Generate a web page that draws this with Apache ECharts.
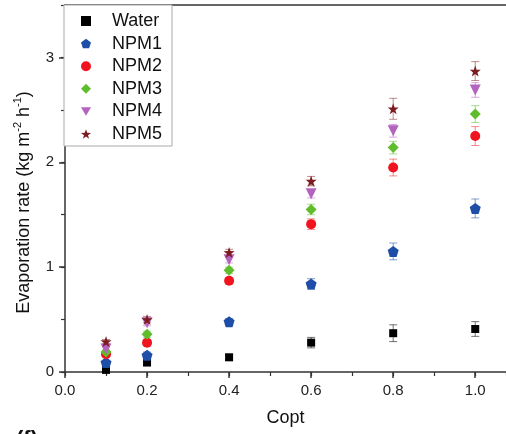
<!DOCTYPE html>
<html>
<head>
<meta charset="utf-8">
<script src="https://cdn.jsdelivr.net/npm/echarts@6/dist/echarts.min.js"></script>
<style>html,body{margin:0;padding:0;background:#fff}#c{width:506px;height:434px}</style>
</head>
<body>
<div id="c"></div>
<script>
const copt = [0.1, 0.2, 0.4, 0.6, 0.8, 1.0];
const water = [0.02, 0.09, 0.14, 0.28, 0.37, 0.41];
const waterErr = [0.01, 0.02, 0.03, 0.05, 0.08, 0.07];
const npm1 = [0.09, 0.16, 0.48, 0.84, 1.15, 1.56];
const npm1Err = [0.02, 0.03, 0.03, 0.05, 0.08, 0.09];
const npm2 = [0.17, 0.28, 0.87, 1.41, 1.95, 2.25];
const npm2Err = [0.02, 0.03, 0.03, 0.05, 0.08, 0.09];
const npm3 = [0.19, 0.36, 0.97, 1.55, 2.14, 2.46];
const npm3Err = [0.02, 0.03, 0.03, 0.05, 0.06, 0.08];
const npm4 = [0.22, 0.47, 1.07, 1.70, 2.30, 2.69];
const npm4Err = [0.02, 0.03, 0.03, 0.04, 0.06, 0.07];
const npm5 = [0.29, 0.50, 1.14, 1.82, 2.51, 2.87];
const npm5Err = [0.02, 0.03, 0.03, 0.045, 0.10, 0.09];
const seriesNames = ['Water', 'NPM1', 'NPM2', 'NPM3', 'NPM4', 'NPM5'];
const xTickLabels = ['0.0', '0.2', '0.4', '0.6', '0.8', '1.0'];

const pentagon = 'path://M0,-10 L9.51,-3.09 L5.88,8.09 L-5.88,8.09 L-9.51,-3.09 Z';
const star = 'path://M0,-10 L2.35,-3.24 L9.51,-3.09 L3.80,1.24 L5.88,8.09 L0,4 L-5.88,8.09 L-3.80,1.24 L-9.51,-3.09 L-2.35,-3.24 Z';
const invTri = 'path://M-10,-8 L10,-8 L0,9 Z';

const defs = [
  {name: 'Water', vals: water, err: waterErr, color: '#000000', bar: 'rgba(0,0,0,0.55)', symbol: 'rect', size: 8},
  {name: 'NPM1', vals: npm1, err: npm1Err, color: '#1f4ea8', bar: 'rgba(31,78,168,0.55)', symbol: pentagon, size: 11},
  {name: 'NPM2', vals: npm2, err: npm2Err, color: '#f0141e', bar: 'rgba(240,20,30,0.5)', symbol: 'circle', size: 10},
  {name: 'NPM3', vals: npm3, err: npm3Err, color: '#5fbd2c', bar: 'rgba(95,189,44,0.55)', symbol: 'diamond', size: 11},
  {name: 'NPM4', vals: npm4, err: npm4Err, color: '#b463be', bar: 'rgba(180,99,190,0.55)', symbol: invTri, size: 11},
  {name: 'NPM5', vals: npm5, err: npm5Err, color: '#7b1c20', bar: 'rgba(123,28,32,0.5)', symbol: star, size: 11}
];

const series = [];
defs.forEach(d => {
  series.push({
    name: d.name + '_err',
    type: 'custom',
    xAxisIndex: 0, yAxisIndex: 0,
    z: 2,
    silent: true,
    data: copt.map((x, i) => [x, d.vals[i], d.err[i]]),
    renderItem: (params, api) => {
      const x = api.value(0), y = api.value(1), e = api.value(2);
      const t = api.coord([x, y + e]);
      const b = api.coord([x, y - e]);
      const hw = 4;
      const style = {stroke: d.bar, lineWidth: 1};
      return {type: 'group', children: [
        {type: 'line', shape: {x1: t[0], y1: t[1], x2: b[0], y2: b[1]}, style},
        {type: 'line', shape: {x1: t[0] - hw, y1: t[1], x2: t[0] + hw, y2: t[1]}, style},
        {type: 'line', shape: {x1: b[0] - hw, y1: b[1], x2: b[0] + hw, y2: b[1]}, style}
      ]};
    }
  });
});
defs.forEach(d => {
  series.push({
    name: d.name,
    type: 'scatter',
    xAxisIndex: 0, yAxisIndex: 0,
    z: 3,
    symbol: d.symbol,
    symbolSize: d.size,
    itemStyle: {color: d.color, opacity: 1},
    data: copt.map((x, i) => [x, d.vals[i]])
  });
});

const font = 'Liberation Sans, Arial, sans-serif';
const axisLineStyle = {color: '#333', width: 1.5};

const chart = echarts.init(document.getElementById('c'), null, {renderer: 'canvas'});
chart.setOption({
  backgroundColor: '#fff',
  animation: false,
  title: {
    text: '(f)', left: 11, top: 424,
    textStyle: {fontFamily: font, fontSize: 22, fontWeight: 'bold', color: '#111'}
  },
  grid: {left: 65, right: 0, top: 5, bottom: 62, containLabel: false},
  legend: {
    data: seriesNames,
    orient: 'vertical',
    left: 64, top: 5,
    padding: [6, 10, 2, 17],
    itemWidth: 10, itemHeight: 10,
    itemGap: 2.6,
    backgroundColor: '#fff',
    borderColor: '#aaa', borderWidth: 1,
    textStyle: {fontFamily: font, fontSize: 18, lineHeight: 20, color: '#111', padding: [0, 0, 0, 16]}
  },
  xAxis: [
    {
      type: 'value', position: 'bottom', min: 0, max: 1.075, interval: 0.2,
      name: 'Copt', nameLocation: 'middle', nameGap: 37,
      nameTextStyle: {fontFamily: font, fontSize: 18, color: '#111'},
      axisLine: {show: true, lineStyle: axisLineStyle},
      axisTick: {show: true, length: 6, inside: false, lineStyle: {color: '#333', width: 1.5}},
      axisLabel: {show: true, margin: 11, fontFamily: font, fontSize: 15, color: '#222', showMaxLabel: false,
        formatter: v => { const i = Math.round(v / 0.2); return Math.abs(v - i * 0.2) < 1e-6 ? (xTickLabels[i] || '') : ''; }},
      splitLine: {show: false}
    },
    {
      type: 'value', position: 'bottom', min: 0, max: 1.075, interval: 0.1,
      axisLine: {show: false},
      axisTick: {show: true, length: 4, lineStyle: {color: '#333', width: 1.2}},
      axisLabel: {show: false}, splitLine: {show: false}
    },
    {
      type: 'value', position: 'top', min: 0, max: 1.075,
      axisLine: {show: true, lineStyle: axisLineStyle},
      axisTick: {show: false}, axisLabel: {show: false}, splitLine: {show: false}
    }
  ],
  yAxis: [
    {
      type: 'value', position: 'left', min: 0, max: 3.5, interval: 1,
      name: 'Evaporation rate (kg m{sup|-2} h{sup|-1})',
      nameLocation: 'middle', nameGap: 27,
      nameTextStyle: {
        fontFamily: font, fontSize: 18, color: '#111', lineHeight: 22,
        padding: [0, 28, 0, 0],
        rich: {sup: {fontFamily: font, fontSize: 11, color: '#111', lineHeight: 11, verticalAlign: 'top'}}
      },
      axisLine: {show: true, lineStyle: axisLineStyle},
      axisTick: {show: true, length: 6, lineStyle: {color: '#333', width: 1.5}},
      axisLabel: {show: true, margin: 11, fontFamily: font, fontSize: 15, color: '#222', showMaxLabel: false},
      splitLine: {show: false}
    },
    {
      type: 'value', position: 'left', min: 0, max: 3.5, interval: 0.5,
      axisLine: {show: false},
      axisTick: {show: true, length: 4, lineStyle: {color: '#333', width: 1.2}},
      axisLabel: {show: false}, splitLine: {show: false}
    }
  ],
  series: series
});
</script>
</body>
</html>
